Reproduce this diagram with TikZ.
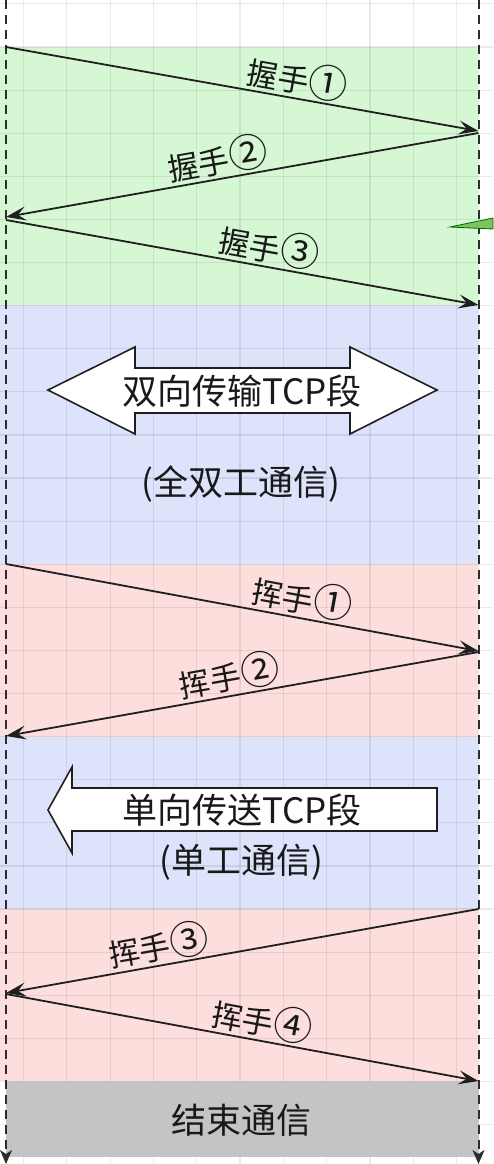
\documentclass[tikz,border=0pt]{standalone}
\usepackage{fontspec}
\setmainfont{Noto Sans CJK SC}
\usetikzlibrary{arrows.meta}
\definecolor{ShakeGreen}{RGB}{214,247,212}
\definecolor{DataBlue}{RGB}{220,227,251}
\definecolor{WaveRed}{RGB}{252,222,221}
\definecolor{EndGrey}{RGB}{196,196,198}
\definecolor{LifeGrey}{RGB}{45,45,45}
\definecolor{LeafGreen}{RGB}{125,195,95}
\newcommand{\ringnum}[1]{{\fontsize{39}{40}\selectfont #1}}

\begin{document}
\begin{tikzpicture}[
    x=1pt, y=-1pt,
    font=\fontsize{31}{34}\selectfont,
    grid/.style={black, opacity=0.08, line width=1.2pt},
    life/.style={LifeGrey, line width=2pt, dash pattern=on 9pt off 6pt,
                 -{Stealth[length=14pt, width=12pt, inset=4pt]}},
    msg/.style={line width=1.8pt, black!88, -{Stealth[length=20pt, width=14pt, inset=8pt]}},
    lbl/.style={sloped, above, inner sep=2pt, pos=#1, text=black!90},
    blk/.style={draw=black!88, line width=1.6pt, fill=white, line join=miter},
    txt/.style={font=\fontsize{35}{38}\selectfont, inner sep=0pt, text=black!90}
  ]
    % Page and bands
    \fill[white] (0,0) rectangle (493,1164);
    \useasboundingbox (0,0) rectangle (493,1164);
    \fill[ShakeGreen] (0,47)  rectangle (478.5,305);
    \fill[DataBlue]   (0,305) rectangle (478.5,564);
    \fill[WaveRed]    (0,564) rectangle (478.5,737);
    \fill[DataBlue]   (0,737) rectangle (478.5,909);
    \fill[WaveRed]    (0,909) rectangle (478.5,1081);

    % Grid
    \foreach \gx in {0,...,10} \draw[grid] ({23.5+43.3*\gx},0) -- ++(0,1164);
    \foreach \gy in {0,...,26} \draw[grid] (0,{3.9+43.1*\gy}) -- ++(493,0);

    \fill[EndGrey] (6,1081) rectangle (478.5,1157);

    % Lifelines
    \coordinate (cliTop) at (6,0);     \coordinate (cliEnd) at (6,1164);
    \coordinate (srvTop) at (478.5,0); \coordinate (srvEnd) at (478.5,1164);
    \draw[life] (cliTop) -- (cliEnd);
    \draw[life] (srvTop) -- (srvEnd);

    % Handshake
    \coordinate (cli1) at (6,47);    \coordinate (srv1) at (478.5,131);
    \coordinate (srv2) at (478.5,133); \coordinate (cli2) at (6,217);
    \coordinate (cli3) at (6,220);   \coordinate (srv3) at (478.5,305);
    \draw[msg] (cli1) -- (srv1) node[lbl=0.61]{握手\ringnum{①}};
    \draw[msg] (srv2) -- (cli2) node[lbl=0.545]{握手\ringnum{②}};
    \draw[msg] (cli3) -- (srv3) node[lbl=0.55]{握手\ringnum{③}};

    \draw[draw=black!60!green, fill=LeafGreen, line width=0.8pt]
        (450,227) -- (493,218) -- (493,229) -- cycle;

    % Full duplex
    \draw[blk] (48,390) -- (135,347) -- (135,368) -- (350,368) -- (350,347) -- (437,390)
               -- (350,434) -- (350,413) -- (135,413) -- (135,434) -- cycle;
    \node[txt] (duplex) at (242,391) {双向传输TCP段};
    \node[txt] (duplexnote) at (241,484) {(全双工通信)};

    % Wave 1-2
    \coordinate (cli4) at (6,564);   \coordinate (srv4) at (478.5,651);
    \coordinate (srv5) at (478.5,652); \coordinate (cli5) at (6,736);
    \draw[msg] (cli4) -- (srv4) node[lbl=0.62]{挥手\ringnum{①}};
    \draw[msg] (srv5) -- (cli5) node[lbl=0.52]{挥手\ringnum{②}};

    % Simplex
    \draw[blk] (48,810) -- (72,767) -- (72,788) -- (437,788) -- (437,831)
               -- (72,831) -- (72,853) -- cycle;
    \node[txt] (simplex) at (242,810) {单向传送TCP段};
    \node[txt] (simplexnote) at (241,862) {(单工通信)};

    % Wave 3-4
    \coordinate (srv6) at (478.5,909); \coordinate (cli6) at (6,993);
    \coordinate (cli7) at (6,994);   \coordinate (srv7) at (478.5,1081);
    \draw[msg] (srv6) -- (cli6) node[lbl=0.67]{挥手\ringnum{③}};
    \draw[msg] (cli7) -- (srv7) node[lbl=0.535]{挥手\ringnum{④}};

    \node[txt] (finish) at (241,1120) {结束通信};
\end{tikzpicture}
\end{document}
